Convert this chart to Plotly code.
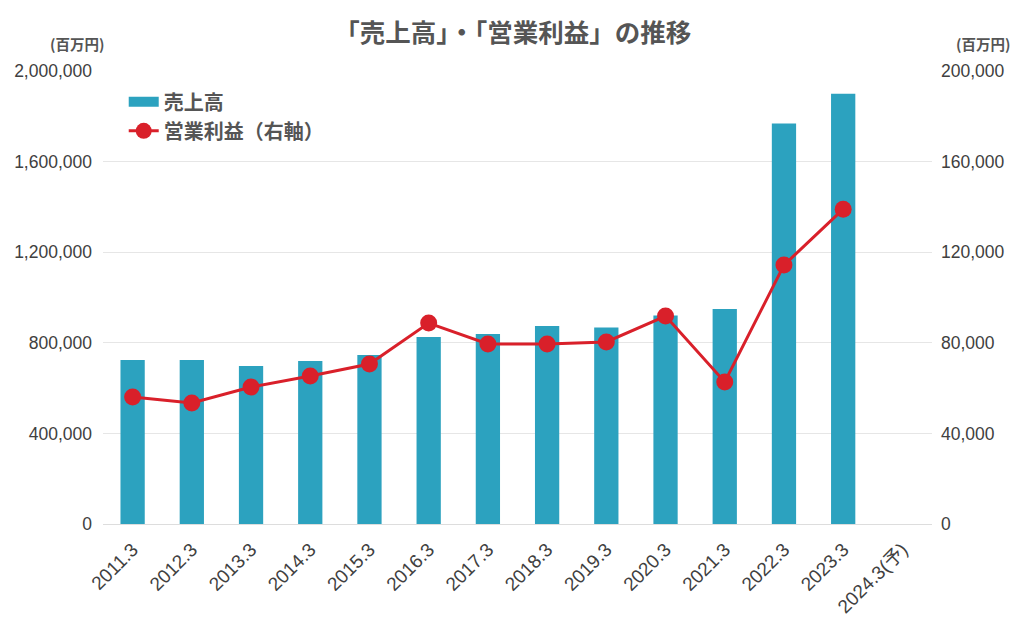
import plotly.graph_objects as go

categories = ["2011.3", "2012.3", "2013.3", "2014.3", "2015.3", "2016.3", "2017.3",
              "2018.3", "2019.3", "2020.3", "2021.3", "2022.3", "2023.3", "2024.3(予)"]
sales = [724000, 724000, 698000, 720000, 746000, 826000, 839000,
         874000, 868000, 921000, 949000, 1768000, 1900000, None]
op_income = [56100, 53400, 60500, 65300, 70600, 88700, 79500,
             79500, 80400, 91800, 62700, 114300, 139000, None]
left_ticks = [0, 400000, 800000, 1200000, 1600000, 2000000]
right_ticks = [0, 40000, 80000, 120000, 160000, 200000]

FONT = "Liberation Sans, Noto Sans CJK JP"
JFONT = "Noto Sans CJK JP"
TXT = "#404040"
BAR = "#2CA2BF"
RED = "#D9202A"

fig = go.Figure()
fig.add_trace(go.Bar(
    x=categories, y=sales, name="売上高",
    marker=dict(color=BAR, line=dict(width=0)),
    yaxis="y", showlegend=False,
))
# legend-only swatch for the bar series (wide rectangle)
fig.add_trace(go.Scatter(
    x=[None], y=[None], name="<b>売上高</b>", mode="lines",
    line=dict(color=BAR, width=14), yaxis="y",
))
fig.add_trace(go.Scatter(
    x=categories, y=op_income, name="<b>営業利益（右軸）</b>",
    mode="lines+markers",
    line=dict(color=RED, width=3),
    marker=dict(color=RED, size=17),
    yaxis="y2",
))

fig.update_layout(
    width=1024, height=630,
    margin=dict(l=95, r=100, t=63, b=114),
    paper_bgcolor="white", plot_bgcolor="white",
    font=dict(family=FONT, color=TXT, size=17),
    title=dict(text="<b>「売上高」・「営業利益」の推移</b>", x=0.493, xanchor="center",
               y=0.960, yanchor="middle", yref="container",
               font=dict(size=25.5, color="#555555", family=JFONT)),
    bargap=0.59,
    showlegend=True,
    legend=dict(x=0.025, y=0.975, xanchor="left", yanchor="top",
                font=dict(size=20, color="#555555", family=JFONT),
                bgcolor="rgba(0,0,0,0)", itemwidth=30, tracegroupgap=0),
    xaxis=dict(type="category", tickangle=-45, showgrid=False, automargin=False,
               range=[-0.5, 13.5],
               showline=True, linecolor="#dddddd", linewidth=1,
               ticks="", tickfont=dict(size=19, color=TXT), fixedrange=True,
               ticklabelstandoff=6),
    yaxis=dict(range=[0, 2000000], tickvals=left_ticks, tickformat=",d", automargin=False,
               showgrid=True, gridcolor="#e6e6e6", gridwidth=1, zeroline=False,
               ticks="", tickfont=dict(size=17.5, color=TXT), ticklabelstandoff=10),
    yaxis2=dict(range=[0, 200000], tickvals=right_ticks, tickformat=",d", automargin=False,
                overlaying="y", side="right", showgrid=False, zeroline=False,
                ticks="", tickfont=dict(size=17.5, color=TXT), ticklabelstandoff=8),
    annotations=[
        dict(text="<b>(百万円)</b>", xref="paper", yref="paper", x=0.004, y=1.06,
             xanchor="right", yanchor="middle", showarrow=False,
             font=dict(size=14.5, color="#555555", family=JFONT)),
        dict(text="<b>(百万円)</b>", xref="paper", yref="paper", x=1.097, y=1.06,
             xanchor="right", yanchor="middle", showarrow=False,
             font=dict(size=14.5, color="#555555", family=JFONT)),
    ],
)

fig.write_html("out.html")
